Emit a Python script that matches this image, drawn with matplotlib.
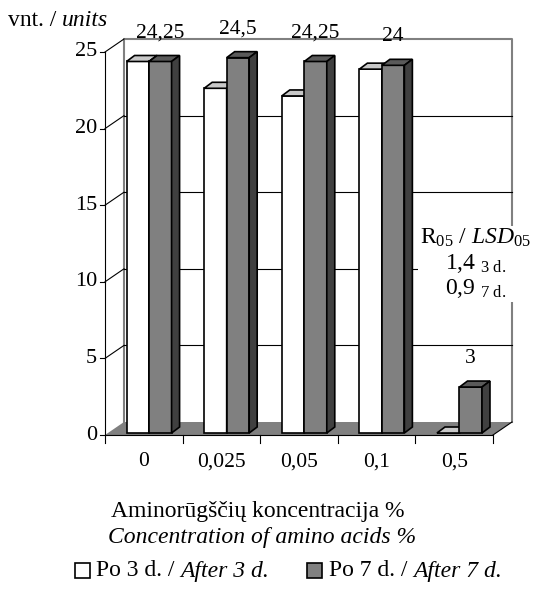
import matplotlib
matplotlib.use("Agg")
import matplotlib.pyplot as plt
from matplotlib.patches import Polygon, Rectangle

plt.rcParams['font.family'] = ['Liberation Serif', 'DejaVu Serif']
plt.rcParams['mathtext.fontset'] = 'custom'
plt.rcParams['mathtext.rm'] = 'Liberation Serif'
plt.rcParams['mathtext.it'] = 'Liberation Serif:italic'

categories = ["0", "0,025", "0,05", "0,1", "0,5"]
after_3d = [24.25, 22.5, 22.0, 23.75, 0.0]
after_7d = [24.25, 24.5, 24.25, 24.0, 3.0]
labels_7d = ["24,25", "24,5", "24,25", "24", "3"]
y_ticks = [0, 5, 10, 15, 20, 25]

W, H = 533, 596
fig = plt.figure(figsize=(W / 100, H / 100), dpi=100)
# axes box = front plane: x from 105 to 493 px, y 0 at 435 px, 25 at 52 px
ax = fig.add_axes([105 / W, (H - 435) / H, 388 / W, 383 / H])
ax.set_xlim(-0.5, len(categories) - 0.5)
ax.set_ylim(0, 25)
ax.axis("off")

px_x = 388 / 5      # px per category
px_y = 383 / 25     # px per unit
# depth of the wall/floor and of the bars, in data units
wdx, wdy = 19 / px_x, 13 / px_y
bdx, bdy = 8 / px_x, 6 / px_y
x_lo, x_hi = -0.5, len(categories) - 0.5
FS_TICK = 15.5
FS_TEXT = 17

# floor
ax.add_patch(Polygon([(x_lo, 0), (x_hi, 0), (x_hi + wdx, wdy), (x_lo + wdx, wdy)],
                     closed=True, facecolor="#808080", edgecolor="none", clip_on=False, zorder=1))
# back wall frame
ax.plot([x_lo + wdx, x_lo + wdx, x_hi + wdx, x_hi + wdx],
        [wdy, 25 + wdy, 25 + wdy, wdy], color="#808080", lw=1.5, clip_on=False, zorder=1)
# grid lines on the back wall and the left wall connectors
for v in y_ticks[1:]:
    if v < 25:
        ax.plot([x_lo + wdx, x_hi + wdx], [v + wdy, v + wdy], color="black", lw=0.8,
                clip_on=False, zorder=1)
    ax.plot([x_lo, x_lo + wdx], [v, v + wdy], color="black", lw=0.8, clip_on=False, zorder=1)

# front y axis with ticks
ax.plot([x_lo, x_lo], [0, 25], color="black", lw=0.8, clip_on=False, zorder=2)
for v in y_ticks:
    ax.plot([x_lo - 5 / px_x, x_lo], [v, v], color="black", lw=0.8, clip_on=False)
    ax.text(x_lo - 8 / px_x, v, str(v), ha="right", va="center", fontsize=16)

# x axis
ax.plot([x_lo, x_hi], [0, 0], color="black", lw=0.8, clip_on=False, zorder=2)
ax.plot([x_hi, x_hi + wdx], [0, wdy], color="black", lw=0.8, clip_on=False, zorder=2)
for i in range(len(categories) + 1):
    ax.plot([i - 0.5, i - 0.5], [0, -8 / px_y], color="black", lw=0.8, clip_on=False)
for i, c in enumerate(categories):
    ax.text(i, -27 / px_y, c, ha="center", va="center", fontsize=FS_TICK)

bw = 0.29
off_3d, off_7d = -0.077, 0.213
base = 2 / px_y


def bar3d(xc, v, front, top, side):
    x0, x1 = xc - bw / 2, xc + bw / 2
    y0, y1 = base, base + v
    ax.bar(xc, v, bw, bottom=y0, color=front, edgecolor="black", lw=1.2, zorder=3, clip_on=False)
    ax.add_patch(Polygon([(x0, y1), (x1, y1), (x1 + bdx, y1 + bdy), (x0 + bdx, y1 + bdy)],
                         closed=True, facecolor=top, edgecolor="black", lw=1.2, zorder=3, clip_on=False))
    ax.add_patch(Polygon([(x1, y0), (x1 + bdx, y0 + bdy), (x1 + bdx, y1 + bdy), (x1, y1)],
                         closed=True, facecolor=side, edgecolor="black", lw=1.2, zorder=3, clip_on=False))


for i in range(len(categories)):
    bar3d(i + off_3d, after_3d[i], "white", "#c8c8c8", "#a0a0a0")
    bar3d(i + off_7d, after_7d[i], "#808080", "#5a5a5a", "#404040")
    ax.text(i + off_7d, after_7d[i] + 2.0, labels_7d[i], ha="center", va="center", fontsize=FS_TICK)

# LSD annotation on the right
ax.text(4.27, 11.2,
        "R$_{05}$ / $\\mathit{LSD}_{\\mathit{05}}$\n1,4 $_{\\mathrm{3\\ d.}}$\n0,9 $_{\\mathrm{7\\ d.}}$",
        ha="center", va="center", fontsize=FS_TEXT, linespacing=1.15, zorder=5,
        bbox=dict(facecolor="white", edgecolor="none", pad=1))


def mixed_text(x, y, plain, italic):
    # plain text followed directly by its italic English counterpart
    t = fig.text(x, y, plain, ha="left", va="center", fontsize=FS_TEXT)
    fig.canvas.draw()
    bb = t.get_window_extent()
    fig.text(bb.x1 / fig.bbox.width, y, italic, ha="left", va="center",
             fontsize=FS_TEXT, style="italic")


mixed_text(8 / W, 1 - 21 / H, "vnt. / ", "units")

fig.text(258 / W, 1 - 511 / H, "Aminorūgščių koncentracija %", ha="center", va="center", fontsize=FS_TEXT)
fig.text(262 / W, 1 - 537 / H, "Concentration of amino acids %", ha="center", va="center",
         fontsize=FS_TEXT, style="italic")

# legend
fig.patches.append(Rectangle((75 / W, 1 - 578 / H), 15 / W, 15 / H, transform=fig.transFigure,
                             facecolor="white", edgecolor="black", lw=1.2))
mixed_text(96 / W, 1 - 571 / H, "Po 3 d. / ", "After 3 d.")
fig.patches.append(Rectangle((307 / W, 1 - 578 / H), 15 / W, 15 / H, transform=fig.transFigure,
                             facecolor="#808080", edgecolor="black", lw=1.2))
mixed_text(329 / W, 1 - 571 / H, "Po 7 d. / ", "After 7 d.")

fig.savefig("out.png", dpi=100)
